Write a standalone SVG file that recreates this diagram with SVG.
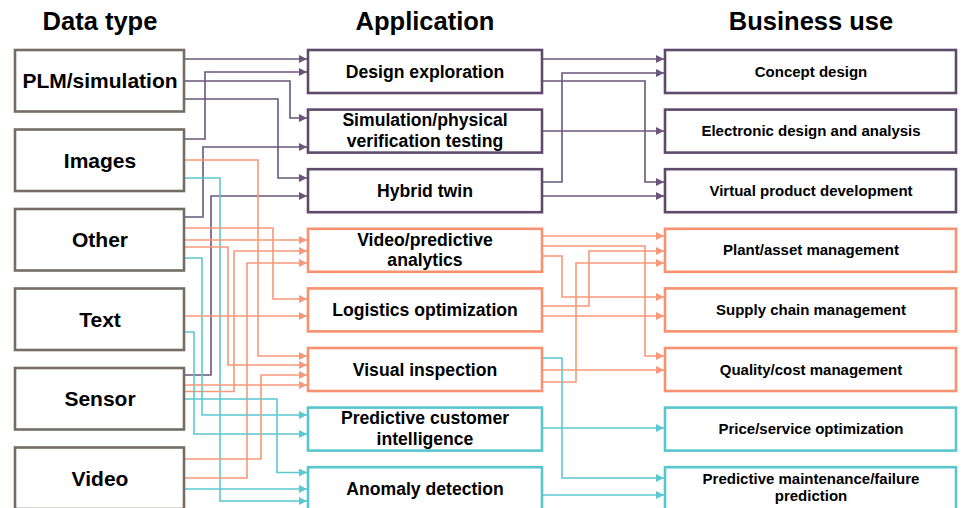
<svg xmlns="http://www.w3.org/2000/svg" width="964" height="508" viewBox="0 0 964 508">
<style>
text{font-family:"Liberation Sans",Arial,sans-serif;font-weight:bold;fill:#000;text-anchor:middle}
.h{font-size:25.5px}
.d{font-size:21px}
.a{font-size:17.6px}
.b{font-size:15px}
.gb{fill:#fff;stroke:#736d66;stroke-width:2.6}
.pb{fill:#fff;stroke:#5f4a6c;stroke-width:2.6}
.ob{fill:#fff;stroke:#f7916f;stroke-width:2.6}
.tb{fill:#fff;stroke:#58c6cf;stroke-width:2.6}
.c path{fill:none;stroke-width:1.6}
.p{stroke:#6a567a;marker-end:url(#mp)}
.o{stroke:#f8987a;marker-end:url(#mo)}
.t{stroke:#5cc8d0;marker-end:url(#mt)}
</style>
<defs>
<marker id="mp" markerUnits="userSpaceOnUse" markerWidth="8" markerHeight="8" refX="8" refY="4" orient="auto"><path d="M0,0L8,4L0,8z" fill="#6a567a"/></marker>
<marker id="mo" markerUnits="userSpaceOnUse" markerWidth="8" markerHeight="8" refX="8" refY="4" orient="auto"><path d="M0,0L8,4L0,8z" fill="#f8987a"/></marker>
<marker id="mt" markerUnits="userSpaceOnUse" markerWidth="8" markerHeight="8" refX="8" refY="4" orient="auto"><path d="M0,0L8,4L0,8z" fill="#5cc8d0"/></marker>
</defs>
<g id="headers">
<text class="h" x="100" y="30">Data type</text>
<text class="h" x="425" y="30">Application</text>
<text class="h" x="811" y="30">Business use</text>
</g>
<g class="c" id="connectors">
<path class="p" d="M185 59H307"/>
<path class="p" d="M185 139H205V72H307"/>
<path class="p" d="M185 81H290V118H307"/>
<path class="p" d="M185 99H278V178H307"/>
<path class="p" d="M185 217H203V147H307"/>
<path class="p" d="M185 375H211V196H307"/>
<path class="o" d="M185 160H258V356H307"/>
<path class="t" d="M185 178H220V501H307"/>
<path class="o" d="M185 228H273V299H307"/>
<path class="o" d="M185 240H307"/>
<path class="o" d="M185 247H228V365H307"/>
<path class="o" d="M185 391.5H234V251H307"/>
<path class="o" d="M185 478H247V263H307"/>
<path class="t" d="M185 258H202V415H307"/>
<path class="o" d="M185 316H307"/>
<path class="t" d="M185 332H194V434H307"/>
<path class="o" d="M185 459H261V375H307"/>
<path class="o" d="M185 385H307"/>
<path class="t" d="M185 399H277V472.5H307"/>
<path class="t" d="M185 489H307"/>
<path class="p" d="M543 59H664"/>
<path class="p" d="M543 182H562V73H664"/>
<path class="p" d="M543 81H645V182H664"/>
<path class="p" d="M543 131H664"/>
<path class="p" d="M543 196H664"/>
<path class="o" d="M543 236H664"/>
<path class="o" d="M543 246H645V356H664"/>
<path class="o" d="M543 306H589V251H664"/>
<path class="o" d="M543 382H576V263H664"/>
<path class="o" d="M543 256H562V297H664"/>
<path class="o" d="M543 316H664"/>
<path class="o" d="M543 370H664"/>
<path class="t" d="M543 358H562V478H664"/>
<path class="t" d="M543 428H664"/>
<path class="t" d="M543 495H664"/>
</g>
<g id="d-plm"><rect class="gb" x="15" y="50" width="169" height="61.5"/><text class="d" x="100" y="88">PLM/simulation</text></g>
<g id="d-images"><rect class="gb" x="15" y="129.5" width="169" height="61.5"/><text class="d" x="100" y="168">Images</text></g>
<g id="d-other"><rect class="gb" x="15" y="209" width="169" height="61.5"/><text class="d" x="100" y="247">Other</text></g>
<g id="d-text"><rect class="gb" x="15" y="288.5" width="169" height="61.5"/><text class="d" x="100" y="327">Text</text></g>
<g id="d-sensor"><rect class="gb" x="15" y="368" width="169" height="61.5"/><text class="d" x="100" y="406">Sensor</text></g>
<g id="d-video"><rect class="gb" x="15" y="447.5" width="169" height="61.5"/><text class="d" x="100" y="486">Video</text></g>
<g id="a-design"><rect class="pb" x="308" y="50" width="234" height="43"/><text class="a" x="425" y="77.5">Design exploration</text></g>
<g id="a-sim"><rect class="pb" x="308" y="109.6" width="234" height="43"/><text class="a" x="425" y="126">Simulation/physical</text><text class="a" x="425" y="147">verification testing</text></g>
<g id="a-hybrid"><rect class="pb" x="308" y="169.2" width="234" height="43"/><text class="a" x="425" y="196.7">Hybrid twin</text></g>
<g id="a-video"><rect class="ob" x="308" y="228.8" width="234" height="43"/><text class="a" x="425" y="245.5">Video/predictive</text><text class="a" x="425" y="266">analytics</text></g>
<g id="a-logistics"><rect class="ob" x="308" y="288.4" width="234" height="43"/><text class="a" x="425" y="316">Logistics optimization</text></g>
<g id="a-visual"><rect class="ob" x="308" y="348" width="234" height="43"/><text class="a" x="425" y="375.5">Visual inspection</text></g>
<g id="a-customer"><rect class="tb" x="308" y="407.6" width="234" height="43"/><text class="a" x="425" y="424">Predictive customer</text><text class="a" x="425" y="444.5">intelligence</text></g>
<g id="a-anomaly"><rect class="tb" x="308" y="467.2" width="234" height="43"/><text class="a" x="425" y="494.5">Anomaly detection</text></g>
<g id="b-concept"><rect class="pb" x="665" y="50" width="291" height="43"/><text class="b" x="811" y="76.5">Concept design</text></g>
<g id="b-electronic"><rect class="pb" x="665" y="109.6" width="291" height="43"/><text class="b" x="811" y="136">Electronic design and analysis</text></g>
<g id="b-virtual"><rect class="pb" x="665" y="169.2" width="291" height="43"/><text class="b" x="811" y="195.7">Virtual product development</text></g>
<g id="b-plant"><rect class="ob" x="665" y="228.8" width="291" height="43"/><text class="b" x="811" y="255.3">Plant/asset management</text></g>
<g id="b-supply"><rect class="ob" x="665" y="288.4" width="291" height="43"/><text class="b" x="811" y="315">Supply chain management</text></g>
<g id="b-quality"><rect class="ob" x="665" y="348" width="291" height="43"/><text class="b" x="811" y="374.5">Quality/cost management</text></g>
<g id="b-price"><rect class="tb" x="665" y="407.6" width="291" height="43"/><text class="b" x="811" y="434">Price/service optimization</text></g>
<g id="b-maint"><rect class="tb" x="665" y="467.2" width="291" height="43"/><text class="b" x="811" y="483.5">Predictive maintenance/failure</text><text class="b" x="811" y="500.5">prediction</text></g>
</svg>
